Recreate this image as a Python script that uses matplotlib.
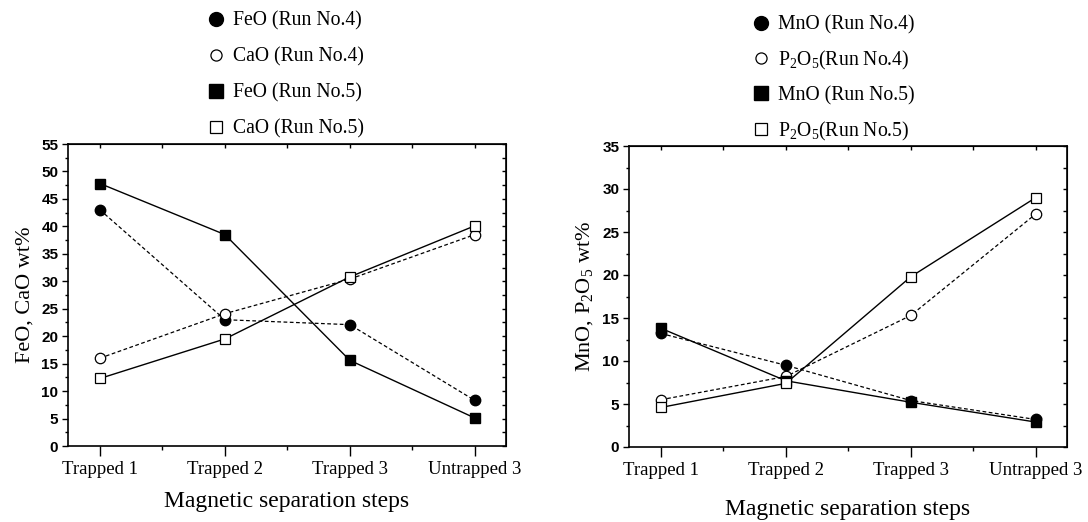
import numpy as np
import matplotlib
matplotlib.use('Agg')
import matplotlib.pyplot as plt
from matplotlib.lines import Line2D
from matplotlib.ticker import MultipleLocator

plt.rcParams['font.family'] = 'Liberation Serif'
plt.rcParams['mathtext.fontset'] = 'custom'
plt.rcParams['mathtext.rm'] = 'Liberation Serif'

steps = ['Trapped 1', 'Trapped 2', 'Trapped 3', 'Untrapped 3']

# left panel
feo_run4 = [43.0, 23.0, 22.1, 8.3]
cao_run4 = [16.0, 24.1, 30.4, 38.5]
feo_run5 = [47.8, 38.5, 15.6, 5.1]
cao_run5 = [12.3, 19.5, 30.8, 40.1]

# right panel
mno_run4 = [13.2, 9.5, 5.4, 3.2]
p2o5_run4 = [5.5, 8.2, 15.3, 27.1]
mno_run5 = [13.8, 7.7, 5.2, 2.9]
p2o5_run5 = [4.6, 7.4, 19.8, 29.0]

x = np.arange(len(steps))
tickfont = dict(family='Liberation Sans', weight='bold', size=11)


def draw_panel(ax, s4a, s4b, s5a, s5b, ymax, ylabel, xpad):
    dash = dict(color='black', lw=0.9, dashes=(3, 2))
    solid = dict(color='black', lw=1.0)
    ax.plot(x, s4a, marker='o', ms=7.5, mfc='black', mec='black', **dash)
    ax.plot(x, s4b, marker='o', ms=7.5, mfc='white', mec='black', mew=0.9, **dash)
    ax.plot(x, s5a, marker='s', ms=7, mfc='black', mec='black', **solid)
    ax.plot(x, s5b, marker='s', ms=7, mfc='white', mec='black', mew=0.9, **solid)

    ax.set_xlim(-0.256, 3.25)
    ax.set_ylim(0, ymax)
    ax.set_xticks(x)
    ax.set_xticklabels(steps, fontsize=13.5)
    ax.xaxis.set_minor_locator(MultipleLocator(0.5))
    ax.yaxis.set_major_locator(MultipleLocator(5))
    ax.yaxis.set_minor_locator(MultipleLocator(2.5))
    for lab in ax.get_yticklabels():
        lab.set_fontproperties(tickfont)
    ax.tick_params(axis='y', which='major', direction='out', length=4, width=1, pad=3)
    ax.tick_params(axis='y', which='minor', direction='out', length=2.5, width=1)
    ax.tick_params(axis='x', which='major', direction='out', length=7, width=1, pad=4)
    ax.tick_params(axis='x', which='minor', direction='out', length=3, width=1)
    for sp in ax.spines.values():
        sp.set_linewidth(1.2)

    # inward ticks on top and right
    top = ax.secondary_xaxis('top')
    top.set_xticks(x)
    top.xaxis.set_minor_locator(MultipleLocator(0.5))
    top.tick_params(which='both', direction='in', length=3, width=1, labeltop=False)
    right = ax.secondary_yaxis('right')
    right.yaxis.set_major_locator(MultipleLocator(5))
    right.yaxis.set_minor_locator(MultipleLocator(2.5))
    right.tick_params(which='both', direction='in', length=3, width=1, labelright=False)

    ax.set_xlabel('Magnetic separation steps', fontsize=17, labelpad=xpad)
    ax.set_ylabel(ylabel, fontsize=16, labelpad=5)


def add_legend(fig, labels, xpos, ycenter, spacing):
    handles = [
        Line2D([], [], ls='none', marker='o', ms=10, mfc='black', mec='black'),
        Line2D([], [], ls='none', marker='o', ms=8, mfc='white', mec='black', mew=0.9),
        Line2D([], [], ls='none', marker='s', ms=9.5, mfc='black', mec='black'),
        Line2D([], [], ls='none', marker='s', ms=8, mfc='white', mec='black', mew=0.9),
    ]
    fig.legend(handles, labels, loc='center left', bbox_to_anchor=(xpos, 1 - ycenter / 522),
               frameon=False, fontsize=14.2, handlelength=1.0, handletextpad=0.35,
               labelspacing=spacing, borderpad=0, borderaxespad=0)


fig = plt.figure(figsize=(10.88, 5.22), dpi=100)
ax1 = fig.add_axes([68 / 1088, 76 / 522, 438 / 1088, 302 / 522])
ax2 = fig.add_axes([629 / 1088, 75 / 522, 438 / 1088, 301 / 522])

draw_panel(ax1, feo_run4, cao_run4, feo_run5, cao_run5, 55, 'FeO, CaO wt%', 9)
draw_panel(ax2, mno_run4, p2o5_run4, mno_run5, p2o5_run5, 35,
           r'MnO, $\mathregular{P_2O_5}$ wt%', 14)

add_legend(fig, ['FeO (Run No.4)', 'CaO (Run No.4)', 'FeO (Run No.5)', 'CaO (Run No.5)'],
           206 / 1088, 75, 0.85)
add_legend(fig, ['MnO (Run No.4)', r'$\mathregular{P_2O_5}$(Run No.4)', 'MnO (Run No.5)',
                 r'$\mathregular{P_2O_5}$(Run No.5)'], 751 / 1088, 79, 0.72)

fig.savefig('out.png', dpi=100)
